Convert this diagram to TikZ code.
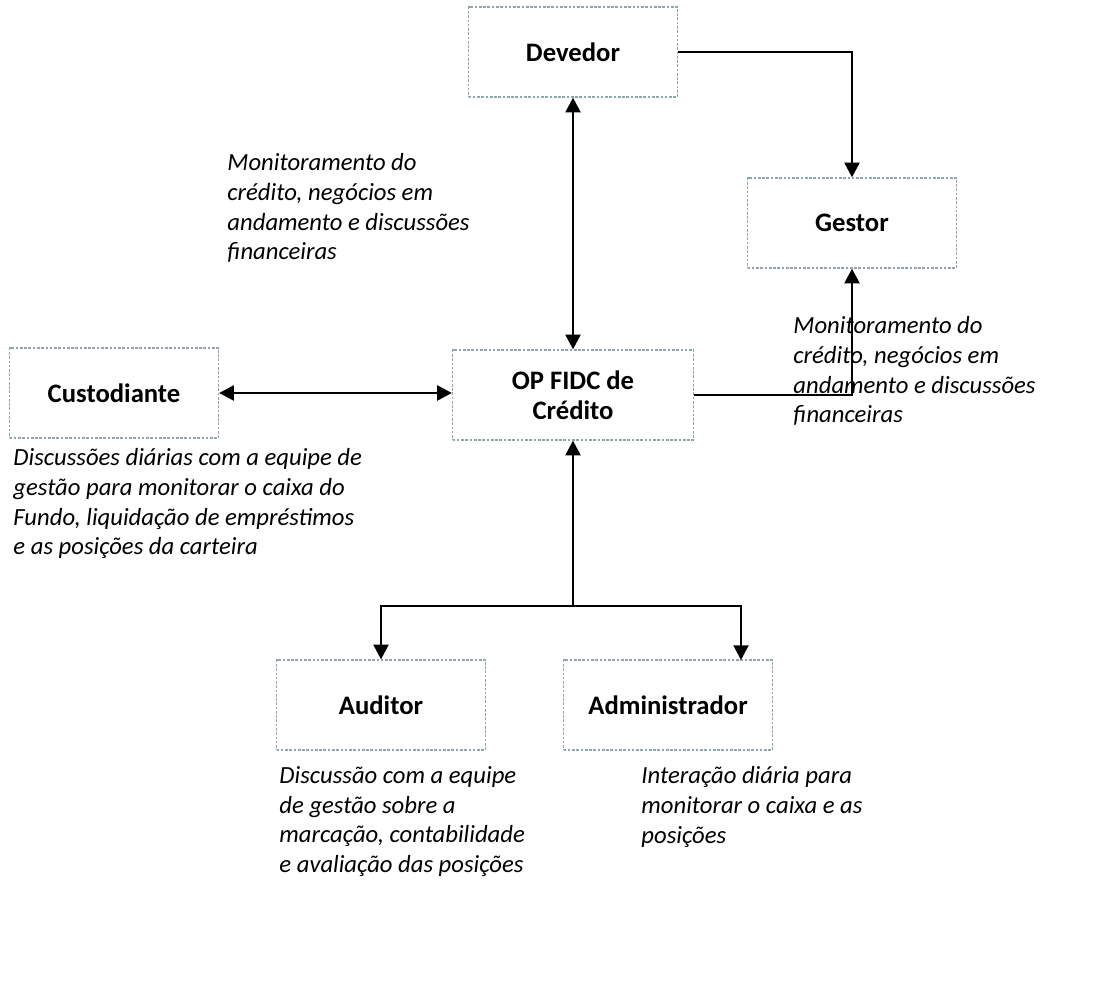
\documentclass[tikz,border=0pt]{standalone}
\usepackage{fontspec}
\setmainfont{Carlito}
\usetikzlibrary{arrows.meta}
\definecolor{boxline}{HTML}{8CA6AB}
\tikzset{
	party/.style = {draw=boxline, line width=0.9pt,
		dash pattern=on 2pt off 1.2pt,
		minimum width=156.75pt,
		minimum height=67.5pt,
		align=center, font=\fontsize{20}{22.5}\selectfont\bfseries},
	note/.style  = {anchor=north west, inner sep=0pt, align=left,
		font=\fontsize{18.5}{22.3}\selectfont\itshape},
}

\begin{document}
\begin{tikzpicture}[x=0.75pt, y=-0.75pt,
                    line width=2.2pt,                      %<--connector thickness
                    >/.tip={Triangle[length=11pt,width=11pt]}
                    ]
    \useasboundingbox (0,0) rectangle (1120,994);

    %-- Boxes --%
    \node[party] (devedor)       at (573,52)  {Devedor};
    \node[party] (gestor)        at (852,223) {Gestor};
    \node[party] (custodiante)   at (114,393) {Custodiante};
    \node[party, minimum width=180.75pt] (opfidc) at (573,395) {OP FIDC de\\Crédito};
    \node[party] (auditor)       at (381,705) {Auditor};
    \node[party] (administrador) at (668,705) {Administrador};

    %-- Helper points --%
    \coordinate (split)    at (573,606);
    \coordinate (adminTop) at (741,660);

    %-- Links --%
    \draw[->]  (devedor.east)     -| (gestor.north);
    \draw[<->] (devedor.south)    -- (opfidc.north);
    \draw[<->] (custodiante.east) -- (custodiante.east -| opfidc.west);
    \draw[->]  (opfidc.east)      -| (gestor.south);
    \draw[->]  (split)            -- (opfidc.south);
    \draw[->]  (split)            -| (auditor.north);
    \draw[->]  (split)            -| (adminTop);

    %-- Descriptions --%
    \node[note] (devedorNote)  at (226,152) {Monitoramento do\\crédito, negócios em\\andamento e discussões\\financeiras};
    \node[note] (gestorNote)   at (792,315) {Monitoramento do\\crédito, negócios em\\andamento e discussões\\financeiras};
    \node[note] (custodNote)   at (12,447)  {Discussões diárias com a equipe de\\gestão para monitorar o caixa do\\Fundo, liquidação de empréstimos\\e as posições da carteira};
    \node[note] (auditorNote)  at (278,765) {Discussão com a equipe\\de gestão sobre a\\marcação, contabilidade\\e avaliação das posições};
    \node[note] (adminNote)    at (640,765) {Interação diária para\\monitorar o caixa e as\\posições};
\end{tikzpicture}
\end{document}
